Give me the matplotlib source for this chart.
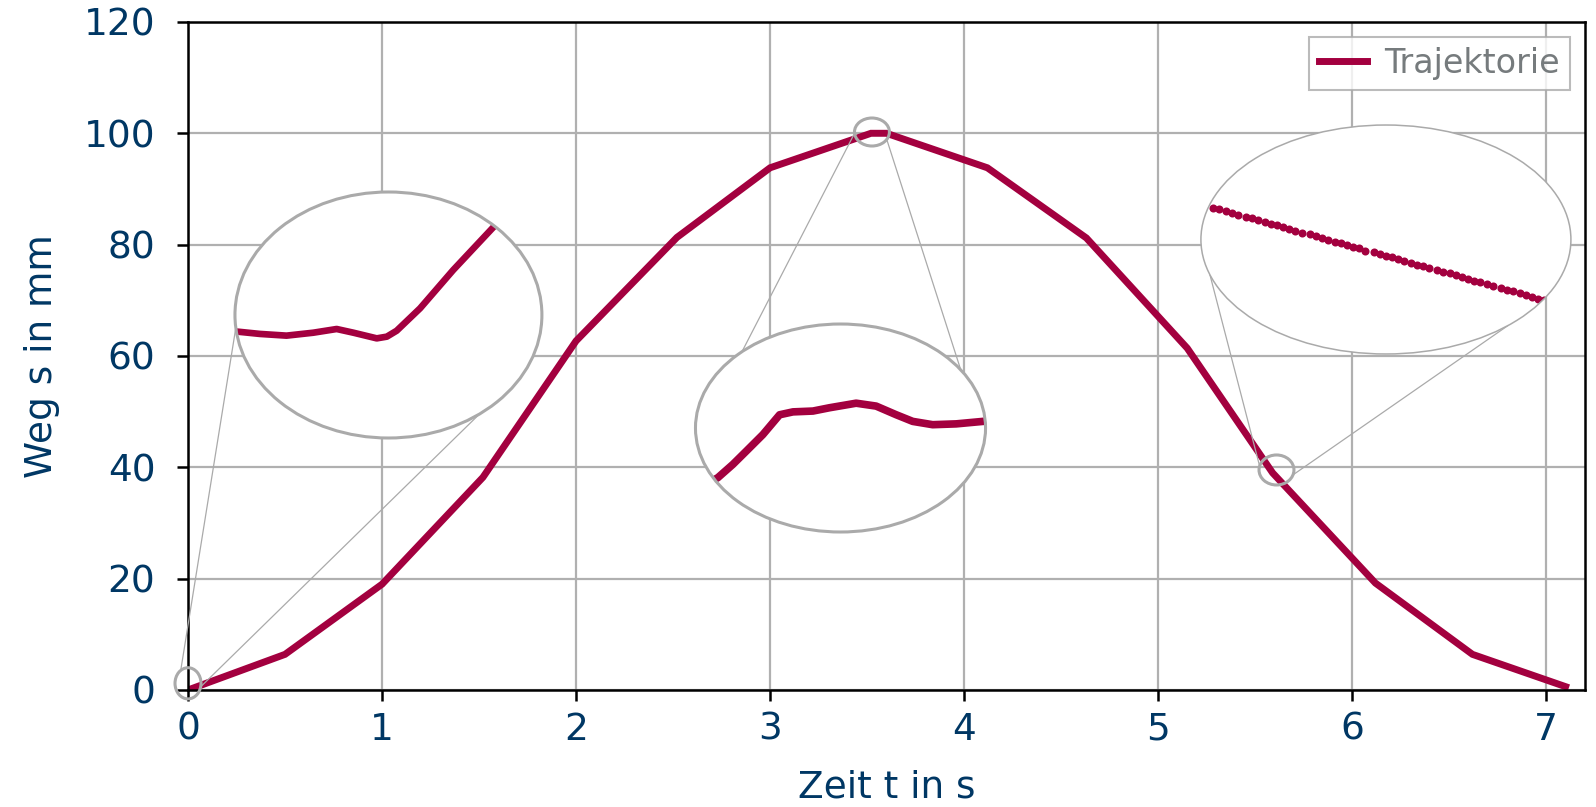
import numpy as np
import matplotlib
matplotlib.use("Agg")
import matplotlib.pyplot as plt
from matplotlib.patches import Ellipse

plt.rcParams['font.family'] = ['DejaVu Sans']

# Hauptkurve: Weg über Zeit
zeit = [0.0, 0.5, 1.0, 1.52, 2.0, 2.52, 3.0, 3.52, 3.6, 4.12, 4.63, 5.15, 5.59, 6.12, 6.62, 7.1]
weg = [0.0, 6.4, 19.0, 38.2, 62.7, 81.3, 93.8, 100.0, 100.0, 93.8, 81.2, 61.4, 39.0, 19.2, 6.4, 0.6]

# Lupe 1 (Start bei t = 0)
lupe1_t = [-0.0700, -0.0655, -0.0561, -0.0445, -0.0328, -0.0226, -0.0153, -0.0051,
           -0.0007, 0.0036, 0.0138, 0.0283, 0.0450, 0.0500]
lupe1_s = [0.83, 0.819, 0.769, 0.730, 0.797, 0.881, 0.797, 0.668,
           0.707, 0.842, 1.351, 2.225, 3.154, 3.43]

# Lupe 2 (Maximum)
lupe2_t = [3.440, 3.4489, 3.4582, 3.4665, 3.4768, 3.4872, 3.4955, 3.5079, 3.5182,
           3.5347, 3.5471, 3.5596, 3.5698, 3.5822, 3.5968, 3.6134, 3.622]
lupe2_s = [98.83, 99.03, 99.35, 99.67, 100.07, 100.55, 100.62, 100.64, 100.72,
           100.83, 100.76, 100.55, 100.39, 100.31, 100.33, 100.39, 100.40]

# Lupe 3 (Abtastpunkte beim Abfahren)
lupe3_t = [5.526, 5.529, 5.532, 5.535, 5.538, 5.542, 5.545, 5.548, 5.551, 5.554,
           5.557, 5.560, 5.563, 5.566, 5.569, 5.573, 5.576, 5.579, 5.582, 5.585,
           5.588, 5.591, 5.594, 5.597, 5.600, 5.604, 5.607, 5.610, 5.613, 5.616,
           5.619, 5.622, 5.625, 5.628, 5.631, 5.635, 5.638, 5.641, 5.644, 5.647,
           5.650, 5.653, 5.656, 5.659, 5.662, 5.666, 5.669, 5.672, 5.675, 5.678,
           5.681, 5.684, 5.687]
lupe3_s = [40.27, 40.23, 40.19, 40.14, 40.10, 40.06, 40.02, 39.98, 39.94, 39.89,
           39.85, 39.81, 39.77, 39.73, 39.68, 39.64, 39.60, 39.56, 39.52, 39.47,
           39.43, 39.39, 39.35, 39.31, 39.26, 39.22, 39.18, 39.14, 39.10, 39.05,
           39.01, 38.97, 38.93, 38.89, 38.85, 38.80, 38.76, 38.72, 38.68, 38.64,
           38.59, 38.55, 38.51, 38.47, 38.43, 38.38, 38.34, 38.30, 38.26, 38.22,
           38.17, 38.13, 38.09]

ROT = '#a3003f'
BLAU = '#003764'
GRAU = '#aaaaaa'

fig = plt.figure(figsize=(15.96, 8.07), dpi=100)
ax = fig.add_axes([0.1178, 0.145, 0.8753, 0.8278])

ax.plot(zeit, weg, color=ROT, lw=5, label='Trajektorie', zorder=2,
        solid_joinstyle='miter')
ax.set_xlim(0, 7.2)
ax.set_ylim(0, 120)
ax.set_xticks(range(0, 8))
ax.set_yticks(range(0, 121, 20))
ax.grid(color='#b0b0b0', lw=1.6)
ax.set_axisbelow(True)
for sp in ax.spines.values():
    sp.set_linewidth(1.8)
    sp.set_color('black')
ax.tick_params(direction='out', length=8, width=1.8, color='black',
               labelcolor=BLAU, labelsize=27)
ax.tick_params(axis='y', pad=15.5)
ax.tick_params(axis='x', pad=7.5)
ax.set_xlabel('Zeit t in s', color=BLAU, fontsize=27, labelpad=16)
ax.set_ylabel('Weg s in mm', color=BLAU, fontsize=27, labelpad=17)

leg = ax.legend(loc='upper right', fancybox=False, borderpad=0.3,
                handlelength=1.45, handletextpad=0.52, borderaxespad=0.45,
                prop={'family': 'DejaVu Sans', 'size': 24})
leg.get_frame().set_edgecolor(GRAU)
leg.get_frame().set_linewidth(1.5)
for txt in leg.get_texts():
    txt.set_color('#767b7d')

# Lupen: (kleiner Kreis: Mitte, Breite, Höhe), (große Ellipse: Mitte, Breite, Höhe),
# Winkel der Verbindungslinien
lupen = [
    dict(klein=((0.0, 1.2), 0.134, 5.6), gross=((1.033, 67.36), 1.582, 44.19),
         winkel=[(124, 186), (-13, -53.6)], t=lupe1_t, s=lupe1_s, stil='linie', lw=4.8, rand=2.2),
    dict(klein=((3.525, 100.23), 0.180, 5.03), gross=((3.363, 47.06), 1.495, 37.36),
         winkel=[(185, 132.8), (-32, 34)], t=lupe2_t, s=lupe2_s, stil='linie', lw=5.5, rand=2.2),
    dict(klein=((5.610, 39.52), 0.180, 5.39), gross=((6.174, 80.92), 1.907, 41.13),
         winkel=[(165, 198), (-19, -48.7)], t=lupe3_t, s=lupe3_s, stil='punkte', lw=0, rand=1.1),
]

for lupe in lupen:
    (kx, ky), kw, kh = lupe['klein']
    (gx, gy), gw, gh = lupe['gross']

    # kleiner Markierungskreis
    ax.add_patch(Ellipse((kx, ky), kw, kh, fill=False, edgecolor=GRAU, lw=2.2,
                         zorder=4, clip_on=False))

    # Verbindungslinien
    for a, b in lupe['winkel']:
        a, b = np.radians(a), np.radians(b)
        x1, y1 = kx + kw / 2 * np.cos(a), ky + kh / 2 * np.sin(a)
        x2, y2 = gx + gw / 2 * np.cos(b), gy + gh / 2 * np.sin(b)
        ax.plot([x1, x2], [y1, y2], color=GRAU, lw=0.9, zorder=3, clip_on=False)

    # Lupe als eigenes Axes
    axin = ax.inset_axes([gx - gw / 2, gy - gh / 2, gw, gh], transform=ax.transData, zorder=5)
    axin.set_xlim(kx - kw / 2, kx + kw / 2)
    axin.set_ylim(ky - kh / 2, ky + kh / 2)
    axin.axis('off')
    axin.patch.set_visible(False)
    bg = Ellipse((0.5, 0.5), 1, 1, transform=axin.transAxes, facecolor='white',
                 edgecolor='none', zorder=0, clip_on=False)
    axin.add_patch(bg)
    if lupe['stil'] == 'linie':
        ln, = axin.plot(lupe['t'], lupe['s'], color=ROT, lw=lupe['lw'], zorder=2,
                        solid_capstyle='butt', solid_joinstyle='round')
    else:
        ln, = axin.plot(lupe['t'], lupe['s'], ls='none', marker='o', ms=5.8,
                        color=ROT, mec=ROT, mew=0, zorder=2)
    ln.set_clip_path(bg)
    axin.add_patch(Ellipse((0.5, 0.5), 1, 1, transform=axin.transAxes, fill=False,
                           edgecolor=GRAU, lw=lupe['rand'], zorder=3, clip_on=False))

fig.savefig('out.png', dpi=100)
